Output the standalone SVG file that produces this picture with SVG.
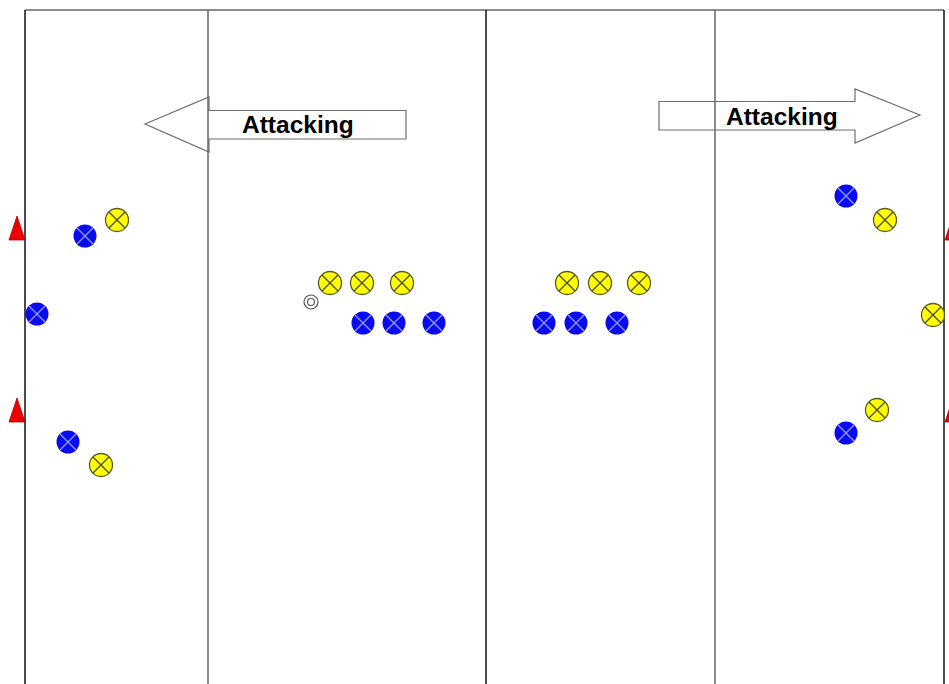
<svg xmlns="http://www.w3.org/2000/svg" width="949" height="684" viewBox="0 0 949 684">
  <style>
    .arrow { fill: #ffffff; stroke: #6e6e6e; stroke-width: 1.2; }
    .label { font-family: "Liberation Sans", Arial, sans-serif; font-weight: bold; font-size: 24.5px; fill: #000000; }
    .field-dark { stroke: #111111; stroke-width: 1.5; }
    .field-grey { stroke: #666666; stroke-width: 1.5; }
    .cone { fill: #ee0000; stroke: #b00000; stroke-width: 0.8; }
    .yellow circle { fill: #ffff00; stroke: #5a5a20; stroke-width: 1.3; }
    .yellow path { stroke: #4a4a20; stroke-width: 1.3; fill: none; }
    .blue circle { fill: #0a0af0; }
    .blue path { stroke: #8f9cff; stroke-width: 1.3; fill: none; }
    .ball { fill: none; stroke: #555555; stroke-width: 1.2; }
  </style>
  <defs>
    <g id="yellow-player" class="yellow">
      <circle r="11.5"/>
      <path d="M -8 -8 L 8 8 M 8 -8 L -8 8"/>
    </g>
    <g id="blue-player" class="blue">
      <circle r="11.5"/>
      <path d="M -8 -8 L 8 8 M 8 -8 L -8 8"/>
    </g>
  </defs>

  <rect width="949" height="684" fill="#ffffff"/>

  <!-- direction arrows -->
  <g id="arrow-left">
    <path class="arrow" d="M 145 124 L 209 97 L 209 110.5 L 406 110.5 L 406 139 L 209 139 L 209 152 Z"/>
    <text class="label" x="242" y="133">Attacking</text>
  </g>
  <g id="arrow-right">
    <path class="arrow" d="M 920 115 L 855 89 L 855 101.5 L 659 101.5 L 659 130 L 855 130 L 855 143 Z"/>
    <text class="label" x="726" y="125">Attacking</text>
  </g>

  <!-- field lines -->
  <g id="field">
    <line class="field-grey" x1="25" y1="10" x2="944" y2="10"/>
    <line class="field-dark" x1="25" y1="10" x2="25" y2="684"/>
    <line class="field-grey" x1="208" y1="10" x2="208" y2="684"/>
    <line class="field-dark" x1="486" y1="10" x2="486" y2="684"/>
    <line class="field-grey" x1="715" y1="10" x2="715" y2="684"/>
    <line class="field-dark" x1="944" y1="10" x2="944" y2="684"/>
  </g>

  <!-- cones -->
  <g id="cones">
    <polygon class="cone" points="9,240 17,216 25,240"/>
    <polygon class="cone" points="9,422 17,398 25,422"/>
    <polygon class="cone" points="945,240 953,216 961,240"/>
    <polygon class="cone" points="945,422 953,398 961,422"/>
  </g>

  <!-- ball -->
  <g id="ball">
    <circle class="ball" cx="311" cy="302" r="7"/>
    <circle class="ball" cx="311" cy="302" r="3.5"/>
  </g>

  <!-- players -->
  <g id="players">
    <use href="#blue-player" x="85" y="236"/>
    <use href="#yellow-player" x="117" y="220"/>
    <use href="#blue-player" x="37" y="314"/>
    <use href="#blue-player" x="68" y="442"/>
    <use href="#yellow-player" x="101" y="465"/>

    <use href="#yellow-player" x="330" y="283"/>
    <use href="#yellow-player" x="362" y="283"/>
    <use href="#yellow-player" x="402" y="283"/>
    <use href="#blue-player" x="363" y="323"/>
    <use href="#blue-player" x="394" y="323"/>
    <use href="#blue-player" x="434" y="323"/>

    <use href="#yellow-player" x="567" y="283"/>
    <use href="#yellow-player" x="600" y="283"/>
    <use href="#yellow-player" x="639" y="283"/>
    <use href="#blue-player" x="544" y="323"/>
    <use href="#blue-player" x="576" y="323"/>
    <use href="#blue-player" x="617" y="323"/>

    <use href="#blue-player" x="846" y="196"/>
    <use href="#yellow-player" x="885" y="220"/>
    <use href="#yellow-player" x="933" y="315"/>
    <use href="#yellow-player" x="877" y="410"/>
    <use href="#blue-player" x="846" y="433"/>
  </g>
</svg>
